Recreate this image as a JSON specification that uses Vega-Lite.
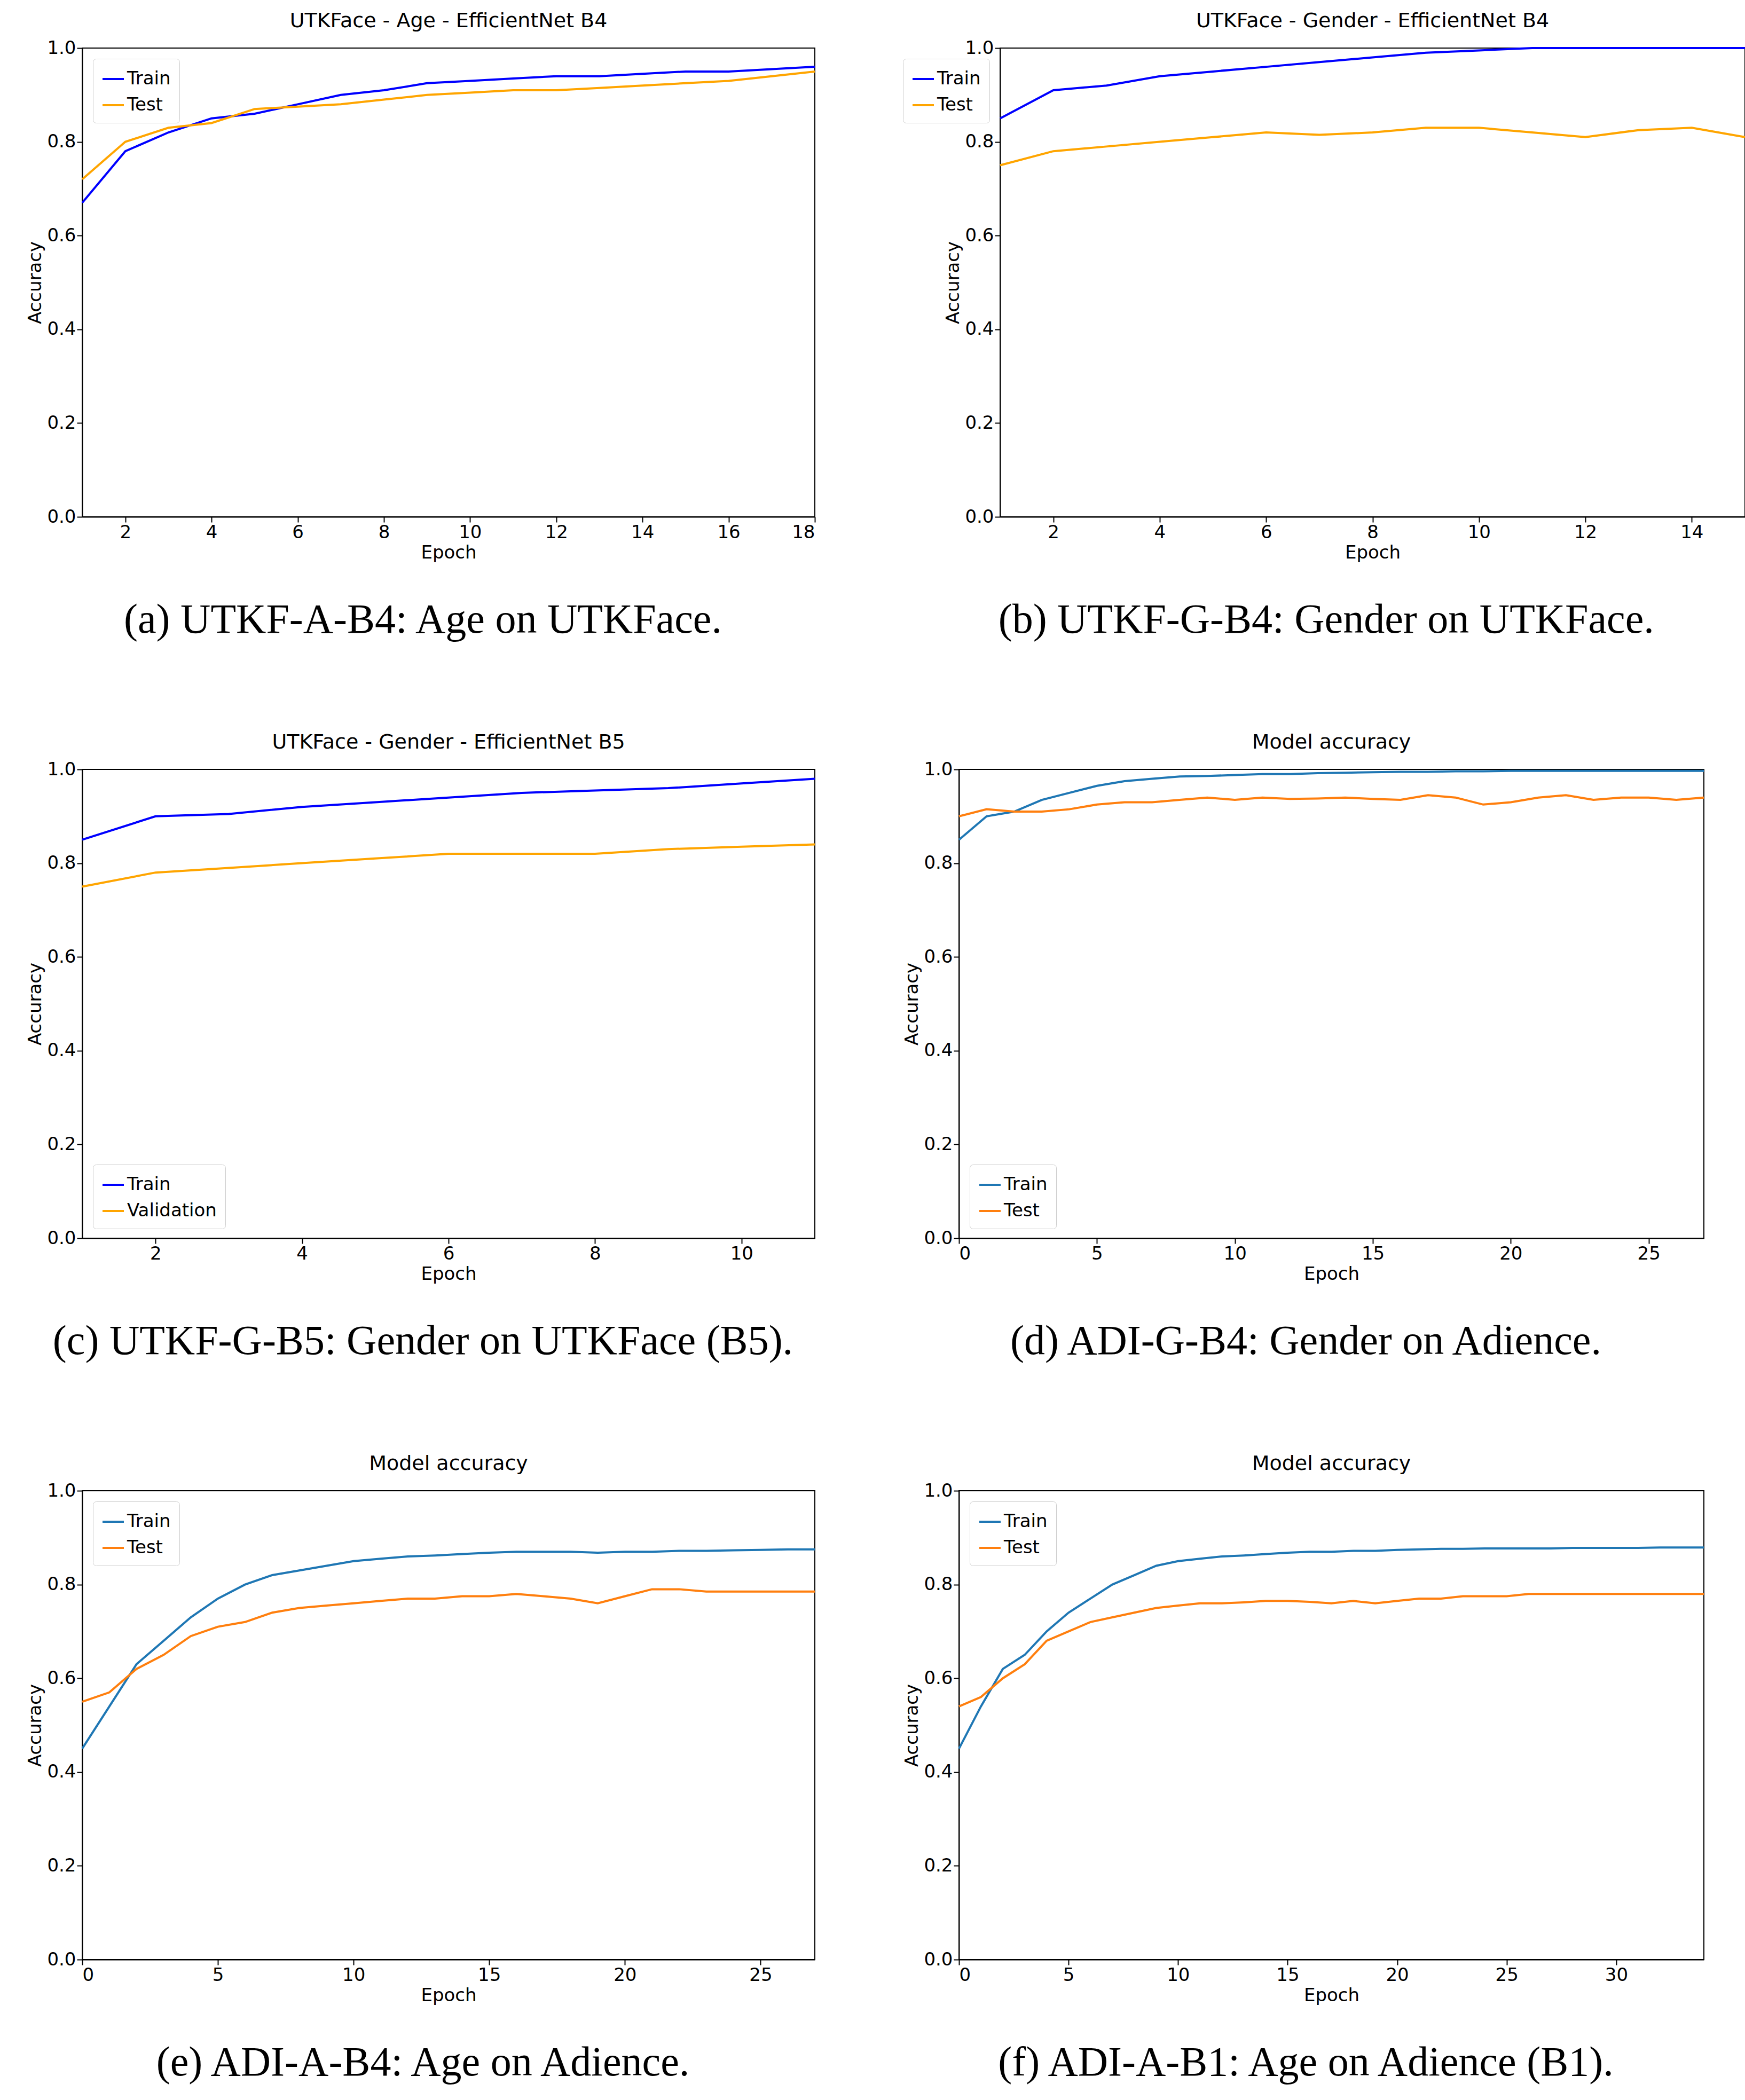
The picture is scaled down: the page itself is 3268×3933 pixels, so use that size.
{
"$schema":"https://vega.github.io/schema/vega-lite/v6.json",
"background":"white",
"padding":{"left":48,"top":20,"right":10,"bottom":10},
"config":{
 "view":{"stroke":"#000","strokeWidth":2},
 "font":"DejaVu Sans",
 "axis":{"grid":false,"domainColor":"#000","tickColor":"#000","labelColor":"#000","titleColor":"#000","labelFontSize":34,"titleFontSize":34,"titleFontWeight":"normal","tickSize":10,"tickWidth":2,"domainWidth":2,"labelFont":"DejaVu Sans","titleFont":"DejaVu Sans"},
 "title":{"fontSize":38,"fontWeight":"normal","font":"DejaVu Sans","color":"#000","offset":14},
 "legend":{"labelFontSize":34,"labelFont":"DejaVu Sans","labelLimit":400,"symbolType":"stroke","symbolStrokeWidth":4,"symbolSize":1600,"strokeColor":"#ccc","fillColor":"white","padding":16,"cornerRadius":6,"offset":20,"labelColor":"#000","rowPadding":10}
},
"datasets":{
 "a":[{"epoch":1,"Train":0.67,"Test":0.72},{"epoch":2,"Train":0.78,"Test":0.80},{"epoch":3,"Train":0.82,"Test":0.83},{"epoch":4,"Train":0.85,"Test":0.84},{"epoch":5,"Train":0.86,"Test":0.87},{"epoch":6,"Train":0.88,"Test":0.875},{"epoch":7,"Train":0.90,"Test":0.88},{"epoch":8,"Train":0.91,"Test":0.89},{"epoch":9,"Train":0.925,"Test":0.90},{"epoch":10,"Train":0.93,"Test":0.905},{"epoch":11,"Train":0.935,"Test":0.91},{"epoch":12,"Train":0.94,"Test":0.91},{"epoch":13,"Train":0.94,"Test":0.915},{"epoch":14,"Train":0.945,"Test":0.92},{"epoch":15,"Train":0.95,"Test":0.925},{"epoch":16,"Train":0.95,"Test":0.93},{"epoch":17,"Train":0.955,"Test":0.94},{"epoch":18,"Train":0.96,"Test":0.95}],
 "b":[{"epoch":1,"Train":0.85,"Test":0.75},{"epoch":2,"Train":0.91,"Test":0.78},{"epoch":3,"Train":0.92,"Test":0.79},{"epoch":4,"Train":0.94,"Test":0.80},{"epoch":5,"Train":0.95,"Test":0.81},{"epoch":6,"Train":0.96,"Test":0.82},{"epoch":7,"Train":0.97,"Test":0.815},{"epoch":8,"Train":0.98,"Test":0.82},{"epoch":9,"Train":0.99,"Test":0.83},{"epoch":10,"Train":0.995,"Test":0.83},{"epoch":11,"Train":1.0,"Test":0.82},{"epoch":12,"Train":1.0,"Test":0.81},{"epoch":13,"Train":1.0,"Test":0.825},{"epoch":14,"Train":1.0,"Test":0.83},{"epoch":15,"Train":1.0,"Test":0.81}],
 "c":[{"epoch":1,"Train":0.85,"Validation":0.75},{"epoch":2,"Train":0.90,"Validation":0.78},{"epoch":3,"Train":0.905,"Validation":0.79},{"epoch":4,"Train":0.92,"Validation":0.80},{"epoch":5,"Train":0.93,"Validation":0.81},{"epoch":6,"Train":0.94,"Validation":0.82},{"epoch":7,"Train":0.95,"Validation":0.82},{"epoch":8,"Train":0.955,"Validation":0.82},{"epoch":9,"Train":0.96,"Validation":0.83},{"epoch":10,"Train":0.97,"Validation":0.835},{"epoch":11,"Train":0.98,"Validation":0.84}],
 "d":[{"epoch":0,"Train":0.85,"Test":0.90},{"epoch":1,"Train":0.90,"Test":0.915},{"epoch":2,"Train":0.91,"Test":0.91},{"epoch":3,"Train":0.935,"Test":0.91},{"epoch":4,"Train":0.95,"Test":0.915},{"epoch":5,"Train":0.965,"Test":0.925},{"epoch":6,"Train":0.975,"Test":0.93},{"epoch":7,"Train":0.98,"Test":0.93},{"epoch":8,"Train":0.985,"Test":0.935},{"epoch":9,"Train":0.986,"Test":0.94},{"epoch":10,"Train":0.988,"Test":0.935},{"epoch":11,"Train":0.99,"Test":0.94},{"epoch":12,"Train":0.99,"Test":0.937},{"epoch":13,"Train":0.992,"Test":0.938},{"epoch":14,"Train":0.993,"Test":0.94},{"epoch":15,"Train":0.994,"Test":0.937},{"epoch":16,"Train":0.995,"Test":0.935},{"epoch":17,"Train":0.995,"Test":0.945},{"epoch":18,"Train":0.996,"Test":0.94},{"epoch":19,"Train":0.996,"Test":0.925},{"epoch":20,"Train":0.997,"Test":0.93},{"epoch":21,"Train":0.997,"Test":0.94},{"epoch":22,"Train":0.997,"Test":0.945},{"epoch":23,"Train":0.997,"Test":0.935},{"epoch":24,"Train":0.997,"Test":0.94},{"epoch":25,"Train":0.997,"Test":0.94},{"epoch":26,"Train":0.997,"Test":0.935},{"epoch":27,"Train":0.997,"Test":0.94}],
 "e":[{"epoch":0,"Train":0.45,"Test":0.55},{"epoch":1,"Train":0.54,"Test":0.57},{"epoch":2,"Train":0.63,"Test":0.62},{"epoch":3,"Train":0.68,"Test":0.65},{"epoch":4,"Train":0.73,"Test":0.69},{"epoch":5,"Train":0.77,"Test":0.71},{"epoch":6,"Train":0.80,"Test":0.72},{"epoch":7,"Train":0.82,"Test":0.74},{"epoch":8,"Train":0.83,"Test":0.75},{"epoch":9,"Train":0.84,"Test":0.755},{"epoch":10,"Train":0.85,"Test":0.76},{"epoch":11,"Train":0.855,"Test":0.765},{"epoch":12,"Train":0.86,"Test":0.77},{"epoch":13,"Train":0.862,"Test":0.77},{"epoch":14,"Train":0.865,"Test":0.775},{"epoch":15,"Train":0.868,"Test":0.775},{"epoch":16,"Train":0.87,"Test":0.78},{"epoch":17,"Train":0.87,"Test":0.775},{"epoch":18,"Train":0.87,"Test":0.77},{"epoch":19,"Train":0.868,"Test":0.76},{"epoch":20,"Train":0.87,"Test":0.775},{"epoch":21,"Train":0.87,"Test":0.79},{"epoch":22,"Train":0.872,"Test":0.79},{"epoch":23,"Train":0.872,"Test":0.785},{"epoch":24,"Train":0.873,"Test":0.785},{"epoch":25,"Train":0.874,"Test":0.785},{"epoch":26,"Train":0.875,"Test":0.785},{"epoch":27,"Train":0.875,"Test":0.785}],
 "f":[{"epoch":0,"Train":0.45,"Test":0.54},{"epoch":1,"Train":0.54,"Test":0.56},{"epoch":2,"Train":0.62,"Test":0.60},{"epoch":3,"Train":0.65,"Test":0.63},{"epoch":4,"Train":0.70,"Test":0.68},{"epoch":5,"Train":0.74,"Test":0.70},{"epoch":6,"Train":0.77,"Test":0.72},{"epoch":7,"Train":0.80,"Test":0.73},{"epoch":8,"Train":0.82,"Test":0.74},{"epoch":9,"Train":0.84,"Test":0.75},{"epoch":10,"Train":0.85,"Test":0.755},{"epoch":11,"Train":0.855,"Test":0.76},{"epoch":12,"Train":0.86,"Test":0.76},{"epoch":13,"Train":0.862,"Test":0.762},{"epoch":14,"Train":0.865,"Test":0.765},{"epoch":15,"Train":0.868,"Test":0.765},{"epoch":16,"Train":0.87,"Test":0.763},{"epoch":17,"Train":0.87,"Test":0.76},{"epoch":18,"Train":0.872,"Test":0.765},{"epoch":19,"Train":0.872,"Test":0.76},{"epoch":20,"Train":0.874,"Test":0.765},{"epoch":21,"Train":0.875,"Test":0.77},{"epoch":22,"Train":0.876,"Test":0.77},{"epoch":23,"Train":0.876,"Test":0.775},{"epoch":24,"Train":0.877,"Test":0.775},{"epoch":25,"Train":0.877,"Test":0.775},{"epoch":26,"Train":0.877,"Test":0.78},{"epoch":27,"Train":0.877,"Test":0.78},{"epoch":28,"Train":0.878,"Test":0.78},{"epoch":29,"Train":0.878,"Test":0.78},{"epoch":30,"Train":0.878,"Test":0.78},{"epoch":31,"Train":0.878,"Test":0.78},{"epoch":32,"Train":0.879,"Test":0.78},{"epoch":33,"Train":0.879,"Test":0.78},{"epoch":34,"Train":0.879,"Test":0.78}]
},
"resolve":{"scale":{"color":"independent"},"legend":{"color":"independent"}},
"vconcat":[
{"hconcat":[
 {"title":{"text":"(a) UTKF-A-B4: Age on UTKFace.","orient":"bottom","anchor":"middle","font":"Liberation Serif","fontSize":78,"offset":70},
  "vconcat":[{"width":1372,"height":878,"title":"UTKFace - Age - EfficientNet B4","data":{"name":"a"},"transform":[{"fold":["Train","Test"],"as":["series","acc"]}],"mark":{"type":"line","strokeWidth":4},
   "encoding":{"x":{"field":"epoch","type":"quantitative","scale":{"domain":[1,18],"nice":false,"zero":false},"axis":{"values":[2,4,6,8,10,12,14,16,18],"title":"Epoch"}},
    "y":{"field":"acc","type":"quantitative","scale":{"domain":[0,1]},"axis":{"values":[0,0.2,0.4,0.6,0.8,1],"format":".1f","title":"Accuracy"}},
    "color":{"field":"series","type":"nominal","sort":null,"scale":{"domain":["Train","Test"],"range":["#0000ff","#ffa500"]},"legend":{"orient":"top-left","title":null}}}}]},
 {"title":{"text":"(b) UTKF-G-B4: Gender on UTKFace.","orient":"bottom","anchor":"middle","font":"Liberation Serif","fontSize":78,"offset":70},
  "vconcat":[{"width":1395,"height":878,"title":"UTKFace - Gender - EfficientNet B4","data":{"name":"b"},"transform":[{"fold":["Train","Test"],"as":["series","acc"]}],"mark":{"type":"line","strokeWidth":4},
   "encoding":{"x":{"field":"epoch","type":"quantitative","scale":{"domain":[1,15],"nice":false,"zero":false},"axis":{"values":[2,4,6,8,10,12,14],"title":"Epoch"}},
    "y":{"field":"acc","type":"quantitative","scale":{"domain":[0,1]},"axis":{"values":[0,0.2,0.4,0.6,0.8,1],"format":".1f","title":"Accuracy"}},
    "color":{"field":"series","type":"nominal","sort":null,"scale":{"domain":["Train","Test"],"range":["#0000ff","#ffa500"]},"legend":{"orient":"top-right","title":null}}}}]}
 ],"spacing":155,"resolve":{"scale":{"color":"independent"},"legend":{"color":"independent"}}},
{"hconcat":[
 {"title":{"text":"(c) UTKF-G-B5: Gender on UTKFace (B5).","orient":"bottom","anchor":"middle","font":"Liberation Serif","fontSize":78,"offset":70},
  "vconcat":[{"width":1372,"height":878,"title":"UTKFace - Gender - EfficientNet B5","data":{"name":"c"},"transform":[{"fold":["Train","Validation"],"as":["series","acc"]}],"mark":{"type":"line","strokeWidth":4},
   "encoding":{"x":{"field":"epoch","type":"quantitative","scale":{"domain":[1,11],"nice":false,"zero":false},"axis":{"values":[2,4,6,8,10],"title":"Epoch"}},
    "y":{"field":"acc","type":"quantitative","scale":{"domain":[0,1]},"axis":{"values":[0,0.2,0.4,0.6,0.8,1],"format":".1f","title":"Accuracy"}},
    "color":{"field":"series","type":"nominal","sort":null,"scale":{"domain":["Train","Validation"],"range":["#0000ff","#ffa500"]},"legend":{"orient":"none","legendX":20,"legendY":740,"title":null}}}}]},
 {"title":{"text":"(d) ADI-G-B4: Gender on Adience.","orient":"bottom","anchor":"middle","font":"Liberation Serif","fontSize":78,"offset":70},
  "vconcat":[{"width":1395,"height":878,"title":"Model accuracy","data":{"name":"d"},"transform":[{"fold":["Train","Test"],"as":["series","acc"]}],"mark":{"type":"line","strokeWidth":4},
   "encoding":{"x":{"field":"epoch","type":"quantitative","scale":{"domain":[0,27],"nice":false},"axis":{"values":[0,5,10,15,20,25],"title":"Epoch"}},
    "y":{"field":"acc","type":"quantitative","scale":{"domain":[0,1]},"axis":{"values":[0,0.2,0.4,0.6,0.8,1],"format":".1f","title":"Accuracy"}},
    "color":{"field":"series","type":"nominal","sort":null,"scale":{"domain":["Train","Test"],"range":["#1f77b4","#ff7f0e"]},"legend":{"orient":"none","legendX":20,"legendY":740,"title":null}}}}]}
 ],"spacing":155,"resolve":{"scale":{"color":"independent"},"legend":{"color":"independent"}}},
{"hconcat":[
 {"title":{"text":"(e) ADI-A-B4: Age on Adience.","orient":"bottom","anchor":"middle","font":"Liberation Serif","fontSize":78,"offset":70},
  "vconcat":[{"width":1372,"height":878,"title":"Model accuracy","data":{"name":"e"},"transform":[{"fold":["Train","Test"],"as":["series","acc"]}],"mark":{"type":"line","strokeWidth":4},
   "encoding":{"x":{"field":"epoch","type":"quantitative","scale":{"domain":[0,27],"nice":false},"axis":{"values":[0,5,10,15,20,25],"title":"Epoch"}},
    "y":{"field":"acc","type":"quantitative","scale":{"domain":[0,1]},"axis":{"values":[0,0.2,0.4,0.6,0.8,1],"format":".1f","title":"Accuracy"}},
    "color":{"field":"series","type":"nominal","sort":null,"scale":{"domain":["Train","Test"],"range":["#1f77b4","#ff7f0e"]},"legend":{"orient":"top-left","title":null}}}}]},
 {"title":{"text":"(f) ADI-A-B1: Age on Adience (B1).","orient":"bottom","anchor":"middle","font":"Liberation Serif","fontSize":78,"offset":70},
  "vconcat":[{"width":1395,"height":878,"title":"Model accuracy","data":{"name":"f"},"transform":[{"fold":["Train","Test"],"as":["series","acc"]}],"mark":{"type":"line","strokeWidth":4},
   "encoding":{"x":{"field":"epoch","type":"quantitative","scale":{"domain":[0,34],"nice":false},"axis":{"values":[0,5,10,15,20,25,30],"title":"Epoch"}},
    "y":{"field":"acc","type":"quantitative","scale":{"domain":[0,1]},"axis":{"values":[0,0.2,0.4,0.6,0.8,1],"format":".1f","title":"Accuracy"}},
    "color":{"field":"series","type":"nominal","sort":null,"scale":{"domain":["Train","Test"],"range":["#1f77b4","#ff7f0e"]},"legend":{"orient":"top-left","title":null}}}}]}
 ],"spacing":155,"resolve":{"scale":{"color":"independent"},"legend":{"color":"independent"}}}
],
"spacing":170
}
